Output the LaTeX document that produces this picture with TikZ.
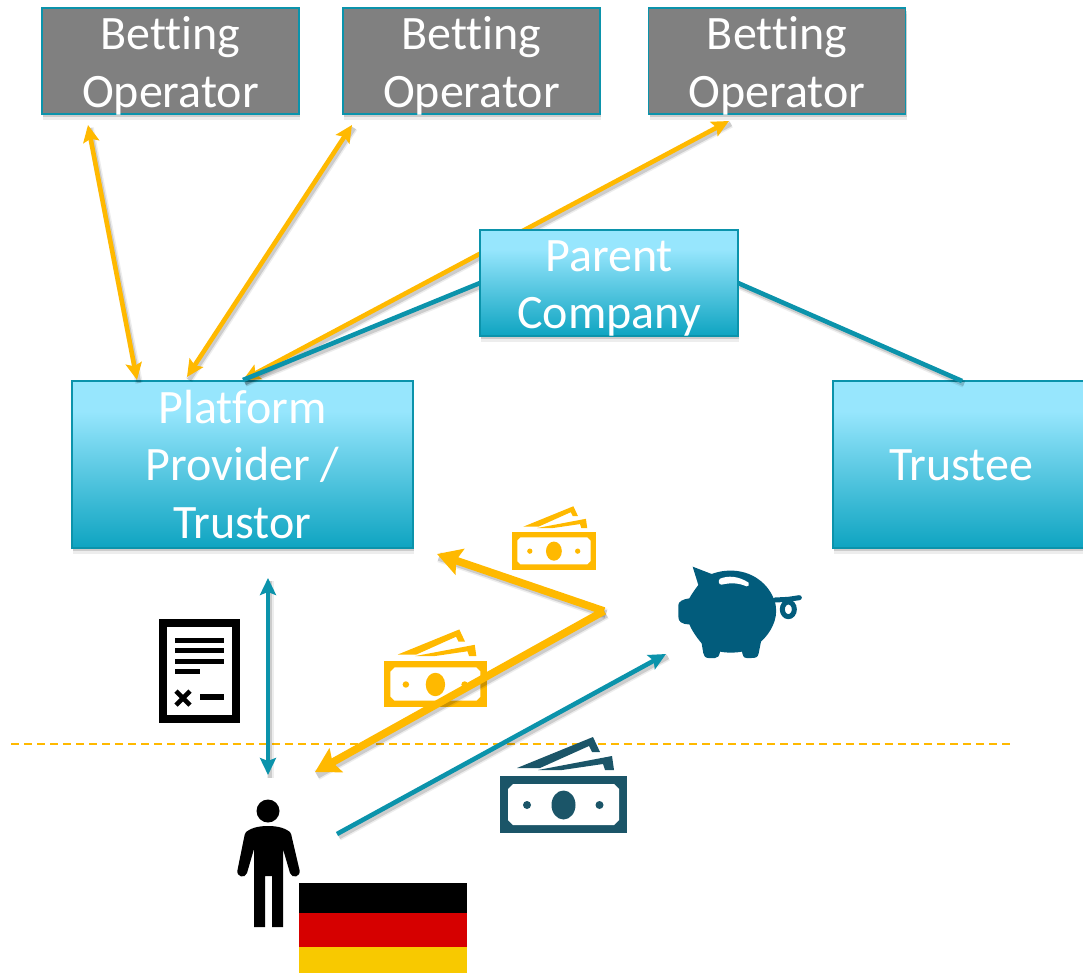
\documentclass[tikz,border=0pt]{standalone}
\usepackage{fontspec}
\setmainfont[Ligatures=NoCommon,Contextuals=NoAlternate]{Carlito}
\usetikzlibrary{arrows.meta,calc}
\definecolor{teal}{HTML}{0B93AB}
\definecolor{gold}{HTML}{FFB900}
\definecolor{deep}{HTML}{1B5568}
\definecolor{pigc}{HTML}{025C7C}
\definecolor{boxtop}{HTML}{97E6FD}
\definecolor{boxbot}{HTML}{0EA4C1}
\definecolor{flagred}{HTML}{D60000}
\definecolor{flagyel}{HTML}{F8C900}
\pgfdeclareverticalshading{boxshade}{100bp}{color(0bp)=(boxbot); color(25bp)=(boxbot); color(50bp)=(boxtop!60!boxbot); color(66bp)=(boxtop); color(100bp)=(boxtop)}
\tikzset{
  x=1pt,y=-1pt,
  shadowline/.style={
    preaction={draw=black,opacity=.07,line width=#1+3pt,-,transform canvas={shift={(2pt,-3pt)}}},
    preaction={draw=black,opacity=.14,line width=#1,-,transform canvas={shift={(2pt,-3pt)}}}},
  lab/.style={align=center,text=white,inner sep=0pt,font=\fontsize{48}{57.5}\selectfont},
  boxbase/.style={
    preaction={fill=black,opacity=.07,transform canvas={shift={(1pt,-6pt)}}},
    preaction={fill=black,opacity=.14,transform canvas={shift={(1pt,-3pt)}}},
    draw=teal,line width=1.6pt,inner sep=0pt},
  greybox/.style={boxbase,fill=black!50,minimum width=257pt,minimum height=106pt},
  bluebox/.style={boxbase,shading=boxshade,shading angle=0},
  thin gold/.style={draw=gold,line width=4.6pt,shadowline=4.6pt},
  fat gold/.style={draw=gold,line width=7.6pt,shadowline=7.6pt},
  teal link/.style={draw=teal,line width=4.6pt,shadowline=4.6pt},
  tip small/.style={>={Stealth[length=17pt,width=16pt,inset=3pt]}},
  tip big/.style={>={Stealth[length=24pt,width=27pt,inset=4pt]}},
  money/.pic={
    \fill[pic actions] (0,0) rectangle (127,57);
    \fill[white] (13,8) -- (114,8) -- (119,13) -- (119,44) -- (114,49) -- (13,49) -- (8,44) -- (8,13) -- cycle;
    \fill[pic actions] (63.5,29) ellipse (12 and 14.5);
    \fill[pic actions] (27,29) circle (4) (99.5,29) circle (4);
    \fill[pic actions] (17,-8) -- (93,-39) -- (100,-24) -- (92,-24) -- (89,-30) -- (40,-8) -- cycle;
    \fill[pic actions] (38,-6) -- (112,-20) -- (114,-6) -- (105,-6) -- (103,-12) -- (62,-6) -- cycle;
  }
}
\begin{document}
\begin{tikzpicture}
\useasboundingbox (0,0) rectangle (1083,973);

% named free ends
\coordinate (a1) at (88,125);  \coordinate (a2) at (137,380);
\coordinate (b1) at (352,125); \coordinate (b2) at (187,377);
\coordinate (c1) at (729,121); \coordinate (c2) at (243,380);
\coordinate (p1) at (480,283); \coordinate (p2) at (738,283);
\coordinate (t1) at (962,381);
\coordinate (d1) at (268,578); \coordinate (d2) at (268,775);
\coordinate (v) at (604,611);
\coordinate (g1) at (437,554); \coordinate (g2) at (315,772);
\coordinate (s1) at (337,834); \coordinate (s2) at (666,654);
\coordinate (l1) at (11,744);  \coordinate (l2) at (1010,744);

% boxes that lie under the connectors
\node[greybox] (op1) at (170.5,61) {};
\node[lab] (op1t) at (170.5,66) {Betting\\Operator};
\node[greybox] (op2) at (471.5,61) {};
\node[lab] (op2t) at (471.5,66) {Betting\\Operator};
\node[greybox] (op3) at (777,61) {};
\node[lab] (op3t) at (777,66) {Betting\\Operator};
\node[bluebox,minimum width=341pt,minimum height=167pt] (plat) at (242.5,464.5) {};
\node[lab] (platt) at (242.5,464.5) {Platform\\Provider /\\Trustor};
\node[bluebox,minimum width=260pt,minimum height=167pt] (trust) at (963,464.5) {};
\node[lab] (trustt) at (961,465) {Trustee};

% connectors
\draw[tip small,thin gold,<->] (a1) -- (a2);
\draw[tip small,thin gold,<->] (b1) -- (b2);
\draw[tip small,thin gold,<->] (c1) -- (c2);
\draw[teal link] (p1) -- (c2);
\draw[teal link] (p2) -- (t1);

\node[bluebox,minimum width=258pt,minimum height=106pt] (parent) at (609,283) {};
\node[lab] (parentt) at (609,288.5) {Parent\\Company};

% dashed border
\draw[gold,line width=1.5pt,dash pattern=on 8pt off 5.04pt] (l1) -- (l2);

\draw[draw=teal,line width=4pt,shadowline=4pt,tip small,<->] (d1) -- (d2);

% icons
\pic[fill=gold,scale=.66] (m1) at (512,532) {money};
\pic[fill=gold,scale=.81] (m2) at (384,661) {money};
\pic[fill=deep] (m3) at (500,776) {money};

\draw[tip big,fat gold,->] (v) -- (g1);
\draw[tip big,fat gold,->] (v) -- (g2);
\draw[tip small,teal link,->] (s1) -- (s2);

% contract
\draw[black,line width=8pt] (163,623) rectangle (236,719);
\foreach \yy in {640,650.5,661}{\fill (175,\yy-2.5) rectangle (224,\yy+2.5);}
\fill (175,668.5) rectangle (200,674);
\draw[line width=4.6pt] (176,691) -- (190,705) (176,705) -- (190,691);
\fill (200,694) rectangle (224,700);

% person
\fill (268,811) circle (11.5);
\fill (268,826) .. controls (256,826) and (250,829) .. (246,832) .. controls (245,834) and (244,836) .. (244,838)
  -- (237.5,870) .. controls (236,877) and (245,879) .. (247,873) -- (254,849) -- (254,927) -- (265,927) -- (265,876)
  -- (272,876) -- (272,927) -- (283,927) -- (283,849) -- (290,873) .. controls (292,879) and (301,877) .. (299.5,870)
  -- (292,838) .. controls (292,836) and (291,834) .. (290,832) .. controls (286,829) and (280,826) .. (268,826) -- cycle;

% flag
\fill[black] (299,883) rectangle (467,913);
\fill[flagred] (299,913) rectangle (467,947);
\fill[flagyel] (299,947) rectangle (467,973);

% piggy bank
\begin{scope}[shift={(480,490)},scale=1/3]
\fill[pigc] (638,230) -- (695,252) .. controls (720,243) and (740,241) .. (760,242)
  .. controls (825,245) and (875,290) .. (887,345)
  .. controls (895,390) and (870,430) .. (843,455) -- (836,490) .. controls (834,503) and (825,504) .. (815,504)
  -- (800,504) .. controls (790,504) and (788,495) .. (786,485)
  .. controls (765,489) and (740,489) .. (720,485)
  .. controls (718,498) and (714,504) .. (705,504) -- (685,504) .. controls (675,504) and (672,497) .. (670,490)
  -- (665,460) .. controls (648,440) and (635,420) .. (628,403)
  .. controls (605,403) and (595,395) .. (595,380) -- (595,345) .. controls (595,335) and (610,327) .. (628,325)
  .. controls (635,312) and (645,298) .. (655,285) -- cycle;
\fill[white] (720,266) .. controls (745,256) and (775,258) .. (806,278)
  .. controls (809,285) and (804,291) .. (799,289)
  .. controls (775,278) and (750,278) .. (725,284) .. controls (715,284) and (714,272) .. (720,266) -- cycle;
\draw[pigc,line width=5pt,line cap=round] (885,330) -- (925,328) -- (958,323);
\draw[pigc,line width=5pt] (925,358) ellipse (18 and 22);
\end{scope}
\end{tikzpicture}
\end{document}
